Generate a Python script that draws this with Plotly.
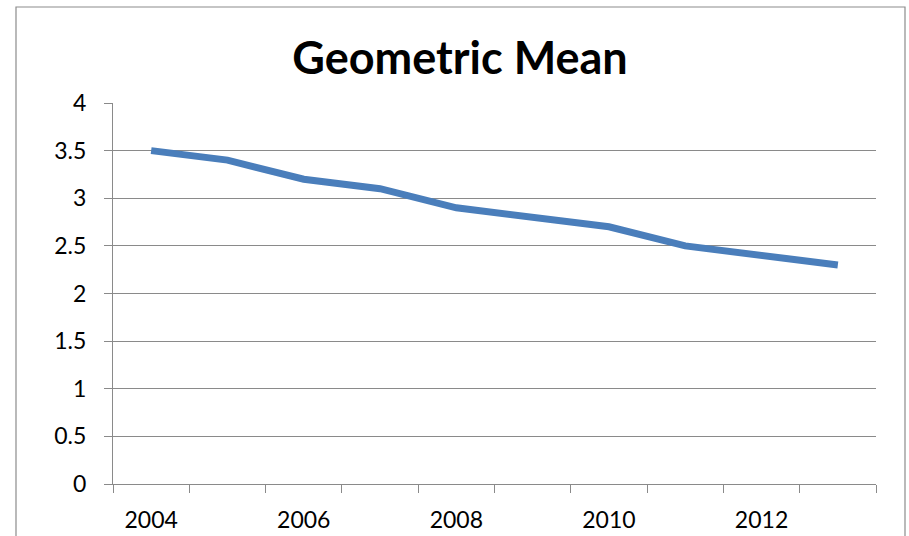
import plotly.graph_objects as go

# Yearly geometric mean values
years = [2004, 2005, 2006, 2007, 2008, 2009, 2010, 2011, 2012, 2013]
geo_mean = [3.5, 3.4, 3.2, 3.1, 2.9, 2.8, 2.7, 2.5, 2.4, 2.3]
year_labels = [2004, 2006, 2008, 2010, 2012]
y_ticks = [0, 0.5, 1, 1.5, 2, 2.5, 3, 3.5, 4]

W, H = 909, 536
L, R, T, B = 113, 33, 103, 52
pw, ph = W - L - R, H - T - B

grid = "#8a8a8a"
font = "Lato, 'Open Sans', sans-serif"

fig = go.Figure()
fig.add_trace(go.Scatter(
    x=years, y=geo_mean, mode="lines",
    line=dict(color="#4a7ebb", width=7),
    hoverinfo="x+y", showlegend=False,
))

# category boundaries for the x tick marks
bounds = [years[0] - 0.5] + [y + 0.5 for y in years]

fig.update_layout(
    width=W, height=H,
    margin=dict(l=L, r=R, t=T, b=B, autoexpand=False),
    paper_bgcolor="white", plot_bgcolor="white",
    font=dict(family=font, color="black", size=23),
    title=dict(
        text="<b>Geometric Mean</b>",
        font=dict(family=font, size=45, color="black"),
        x=460 / W, xref="container", xanchor="center",
        y=1 - 58 / H, yref="container", yanchor="middle",
    ),
    xaxis=dict(
        range=[years[0] - 0.5, years[-1] + 0.5],
        tickmode="array", tickvals=year_labels,
        ticktext=[str(v) for v in year_labels],
        ticks="", showgrid=False, zeroline=False, automargin=False,
        showline=True, linecolor=grid, linewidth=1.2,
        ticklabelstandoff=15,
        minor=dict(tickmode="array", tickvals=bounds, ticks="outside",
                   ticklen=8, tickcolor=grid, tickwidth=1.2, showgrid=False),
    ),
    yaxis=dict(
        range=[0, 4], tickmode="array", tickvals=y_ticks,
        ticktext=[f"{v:g}" for v in y_ticks],
        ticks="outside", ticklen=8, tickcolor=grid, tickwidth=1.2,
        showgrid=True, gridcolor=grid, gridwidth=1.2, automargin=False,
        zeroline=False, showline=True, linecolor=grid, linewidth=1.2,
        ticklabelstandoff=13,
    ),
    shapes=[dict(
        type="rect", xref="paper", yref="paper",
        x0=(16 - L) / pw, x1=(905 - L) / pw,
        y0=-(545 - (H - B)) / ph, y1=((H - B) - 7) / ph,
        line=dict(color="#8c8c8c", width=1.2), fillcolor="rgba(0,0,0,0)",
        layer="below",
    )],
)

fig.write_html("out.html")
